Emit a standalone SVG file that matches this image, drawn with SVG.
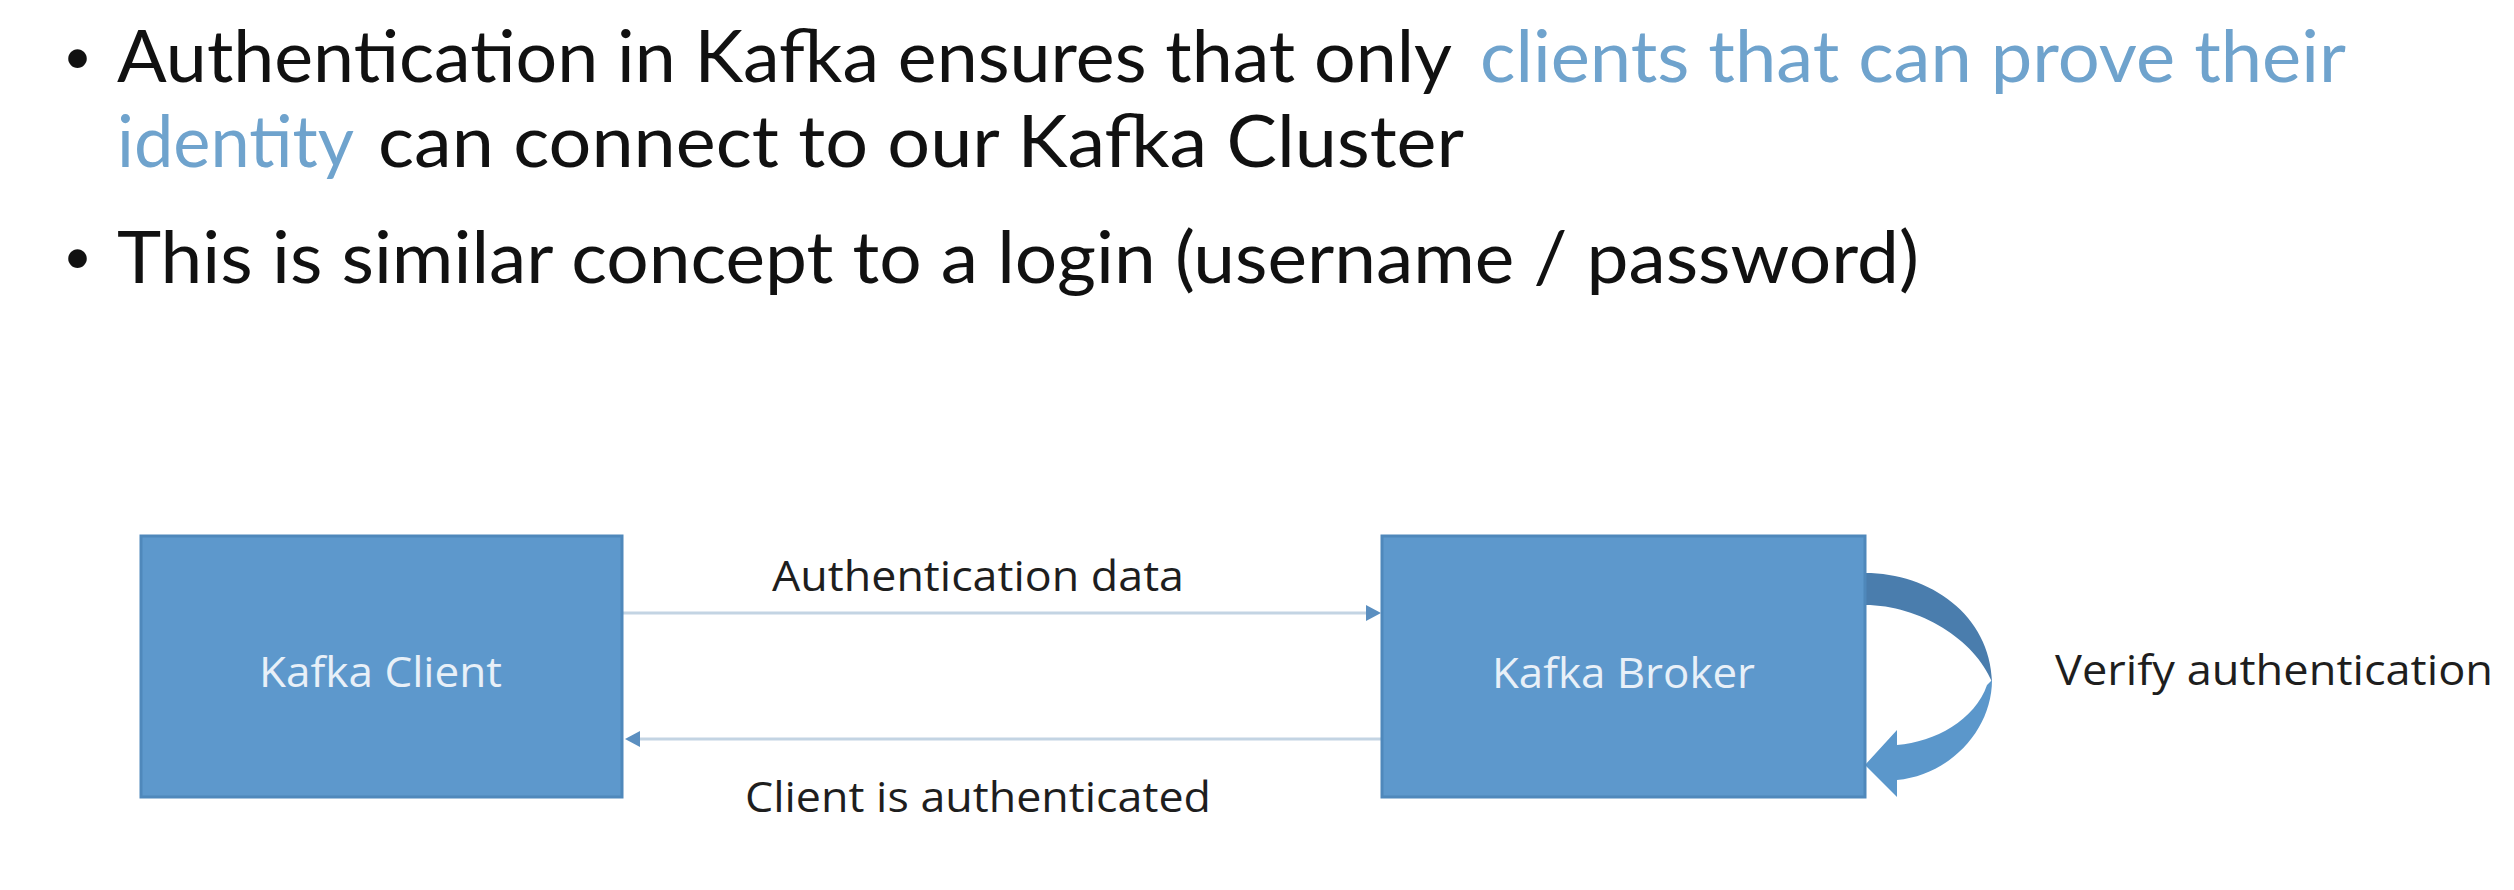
<svg xmlns="http://www.w3.org/2000/svg" width="2514" height="890" viewBox="0 0 2514 890">
<defs>
<style>
.bul{font-family:Lato,"Gill Sans","Open Sans",sans-serif;font-size:72px;fill:#111111}
.dot{font-family:Lato,"Open Sans",sans-serif;font-size:50px;fill:#111111}
.blue{fill:#6fa3cd}
.lbl{font-family:"Open Sans","Noto Sans",sans-serif;font-size:42px;fill:#1e1e1e}
.box{fill:#5d98cc;stroke:#4f88bb;stroke-width:3}
.boxt{font-family:"Open Sans","Noto Sans",sans-serif;font-size:42px;fill:#e8f0f8}
.conn{stroke:#c3d4e3;stroke-width:3;fill:none}
.head{fill:#5b8fc0}
</style>
</defs>
<rect width="2514" height="890" fill="#ffffff"/>
<g id="bullets">
<text class="dot" x="63" y="74">•</text>
<text class="bul" x="117" y="82" textLength="1335" lengthAdjust="spacingAndGlyphs">Authentication in Kafka ensures that only</text>
<text class="bul blue" x="1480" y="82" textLength="866" lengthAdjust="spacingAndGlyphs">clients that can prove their</text>
<text class="bul blue" x="117" y="167" textLength="237" lengthAdjust="spacingAndGlyphs">identity</text>
<text class="bul" x="378" y="167" textLength="1086" lengthAdjust="spacingAndGlyphs">can connect to our Kafka Cluster</text>
<text class="dot" x="63" y="274">•</text>
<text class="bul" x="117" y="283" textLength="1802" lengthAdjust="spacingAndGlyphs">This is similar concept to a login (username / password)</text>
</g>
<g id="connectors">
<line class="conn" x1="622" y1="613" x2="1368" y2="613"/>
<polygon class="head" points="1366,605 1381,613 1366,621"/>
<line class="conn" x1="1382" y1="739" x2="638" y2="739"/>
<polygon class="head" points="640,731 625,739 640,747"/>
<path id="self-loop-back" d="M1865,573 C1930,573 1990,615 1992,682 C1975,640 1920,605 1865,605 Z" fill="#4a7dad"/>
<path id="self-loop-front" d="M1992,680 C1992,730 1950,775 1897,780 L1897,797 L1865,765 L1897,730 L1897,745 C1935,742 1975,720 1987,685 Z" fill="#5b97cb"/>
</g>
<g id="label-auth-data">
<text class="lbl" x="772" y="591" textLength="412" lengthAdjust="spacingAndGlyphs">Authentication data</text>
</g>
<g id="label-client-auth">
<text class="lbl" x="745" y="812" textLength="466" lengthAdjust="spacingAndGlyphs">Client is authenticated</text>
</g>
<g id="label-verify">
<text class="lbl" x="2055" y="685" textLength="438" lengthAdjust="spacingAndGlyphs">Verify authentication</text>
</g>
<g id="kafka-client">
<rect class="box" x="141" y="536" width="481" height="261"/>
<text class="boxt" x="259" y="687" textLength="243" lengthAdjust="spacingAndGlyphs">Kafka Client</text>
</g>
<g id="kafka-broker">
<rect class="box" x="1382" y="536" width="483" height="261"/>
<text class="boxt" x="1492" y="688" textLength="263" lengthAdjust="spacingAndGlyphs">Kafka Broker</text>
</g>
</svg>
